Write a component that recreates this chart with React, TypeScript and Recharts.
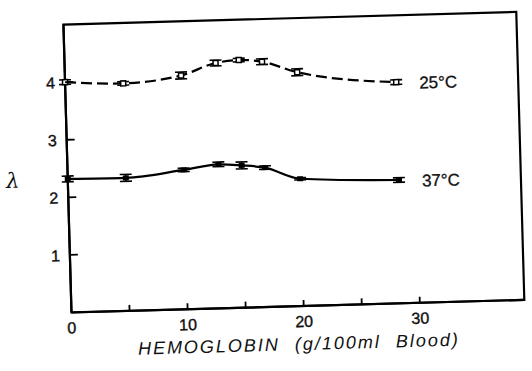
import { LineChart, Line, XAxis, YAxis, ErrorBar, LabelList, ReferenceArea, Label } from "recharts";

const hemoglobin = [0, 5, 10, 13, 15, 17, 20, 28.5];
const lambda25 = [4.0, 3.95, 4.06, 4.26, 4.3, 4.26, 4.06, 3.84];
const err25 = [0.04, 0.03, 0.06, 0.05, 0.03, 0.05, 0.06, 0.04];
const lambda37 = [2.32, 2.31, 2.42, 2.5, 2.47, 2.42, 2.21, 2.14];
const err37 = [0.05, 0.06, 0.03, 0.04, 0.06, 0.03, 0.02, 0.04];
const seriesNames = ["25°C", "37°C"];
const xTicks = [0, 5, 10, 15, 20, 25, 30];
const xTickLabels = ["0", "", "10", "", "20", "", "30"];
const yTicks = [1, 2, 3, 4];

const data = hemoglobin.map((hb, i) => ({
  hb,
  t25: lambda25[i],
  e25: err25[i],
  t37: lambda37[i],
  e37: err37[i],
}));

const font = "'Liberation Sans', Arial, sans-serif";

const XTick = (props: any) => {
  const { x, y, payload, index } = props;
  return (
    <g>
      {payload.value !== 0 && <line x1={x} x2={x} y1={y} y2={y - 6} stroke="#000" strokeWidth={1.8} />}
      {xTickLabels[index] && (
        <text x={x} y={y + 21} textAnchor="middle" fontSize={16} fontFamily={font} fill="#111" stroke="#111" strokeWidth={0.4}>
          {xTickLabels[index]}
        </text>
      )}
    </g>
  );
};

const YTick = (props: any) => {
  const { x, y, payload } = props;
  return (
    <g>
      <line x1={x} x2={x + 8} y1={y} y2={y} stroke="#000" strokeWidth={1.8} />
      <text x={x - 10} y={y + 6} textAnchor="end" fontSize={16} fontFamily={font} fill="#111" stroke="#111" strokeWidth={0.4}>
        {payload.value}
      </text>
    </g>
  );
};

const OpenDot = (props: any) => {
  const { cx, cy } = props;
  return <rect x={cx - 2.5} y={cy - 2.5} width={5} height={5} fill="#fff" stroke="#000" strokeWidth={1.5} />;
};

const FilledDot = (props: any) => {
  const { cx, cy } = props;
  return <rect x={cx - 3} y={cy - 2.5} width={6} height={5} fill="#000" />;
};

const endLabel = (name: string) => (props: any) => {
  const { x, y, index } = props;
  if (index !== hemoglobin.length - 1) return null;
  return (
    <text x={x + 23} y={y + 7} fontSize={17} fontFamily={font} fill="#111" stroke="#111" strokeWidth={0.3}>
      {name}
    </text>
  );
};

export default function App() {
  return (
    <div
      style={{
        position: "absolute",
        left: 0,
        top: 0,
        width: 532,
        height: 371,
        background: "#fff",
        transform: "rotate(-1.6deg)",
        transformOrigin: "266px 185px",
      }}
    >
      <LineChart width={532} height={371} data={data} margin={{ top: 19, right: 11, bottom: 24, left: 28 }}>
        <XAxis
          dataKey="hb"
          type="number"
          domain={[0, 39]}
          ticks={xTicks}
          interval={0}
          height={40}
          tickSize={0}
          tickMargin={0}
          tickLine={false}
          tick={XTick}
          axisLine={{ stroke: "#000", strokeWidth: 2.2 }}
        >
          <Label
            value="HEMOGLOBIN  (g/100ml  Blood)"
            position="insideBottom"
            offset={-4}
            style={{
              fontSize: 18,
              fontStyle: "italic",
              fontFamily: font,
              fill: "#111",
              letterSpacing: 2,
              wordSpacing: 8,
              whiteSpace: "pre",
            }}
          />
        </XAxis>
        <YAxis
          type="number"
          domain={[0, 5]}
          ticks={yTicks}
          interval={0}
          width={40}
          tickSize={0}
          tickMargin={0}
          tickLine={false}
          tick={YTick}
          axisLine={{ stroke: "#000", strokeWidth: 2.2 }}
        >
          <Label
            content={(p: any) => (
              <text
                x={p.viewBox.x - 15}
                y={p.viewBox.y + p.viewBox.height * 0.562}
                fontSize={21}
                fontStyle="italic"
                fontFamily="'DejaVu Serif', serif"
                fill="#111"
                textAnchor="middle"
              >
                λ
              </text>
            )}
          />
        </YAxis>
        <ReferenceArea x1={0} x2={39} y1={0} y2={5} fill="none" stroke="#000" strokeWidth={2.2} />
        <Line
          dataKey="t25"
          type="monotone"
          stroke="#000"
          strokeWidth={2.2}
          strokeDasharray="11 5"
          dot={OpenDot}
          isAnimationActive={false}
        >
          <ErrorBar dataKey="e25" width={6} stroke="#000" strokeWidth={1.6} direction="y" />
          <LabelList dataKey="t25" content={endLabel(seriesNames[0])} />
        </Line>
        <Line
          dataKey="t37"
          type="monotone"
          stroke="#000"
          strokeWidth={2.2}
          dot={FilledDot}
          isAnimationActive={false}
        >
          <ErrorBar dataKey="e37" width={6} stroke="#000" strokeWidth={1.6} direction="y" />
          <LabelList dataKey="t37" content={endLabel(seriesNames[1])} />
        </Line>
      </LineChart>
    </div>
  );
}
